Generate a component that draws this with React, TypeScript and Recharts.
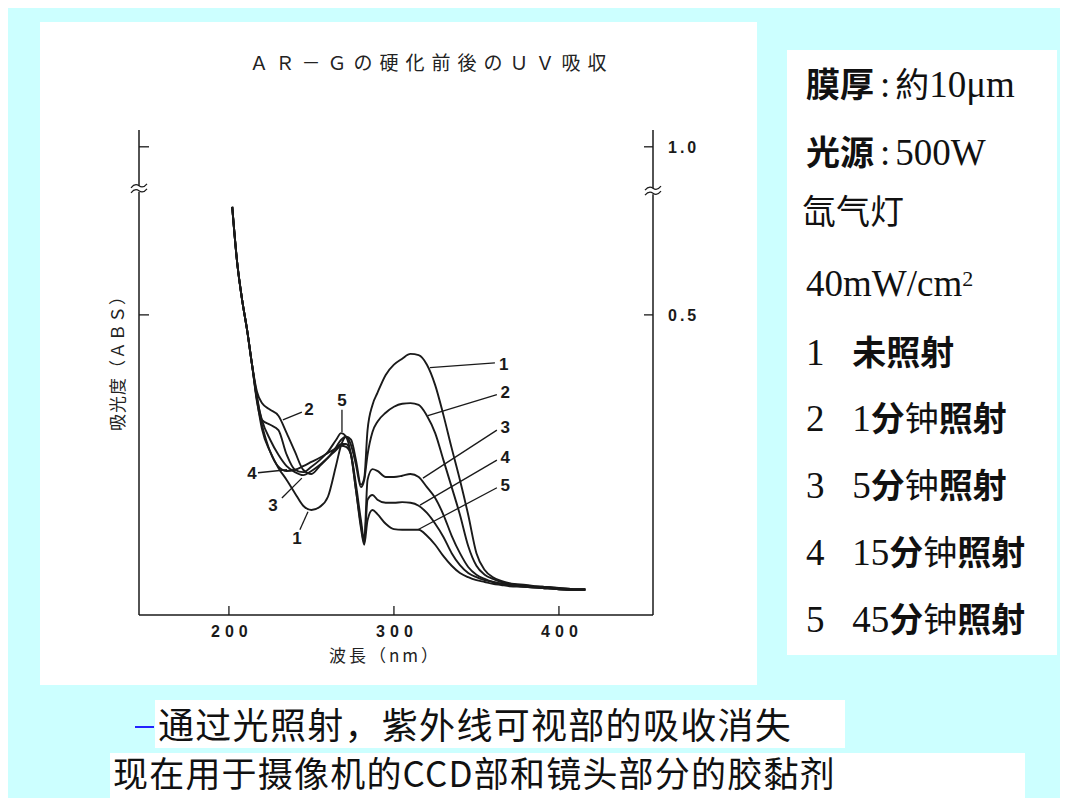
import { LineChart, Line, XAxis, YAxis, ReferenceLine, ReferenceDot } from 'recharts';

// wavelength (nm) and absorbance readings, curves 1..5
const wavelengths = [202, 205, 208, 211, 214, 217, 220, 225, 230, 235, 240, 245, 250, 255, 260, 265, 268, 271, 274, 277, 280, 282, 284, 287, 290, 295, 300, 305, 310, 315, 320, 325, 330, 335, 340, 345, 350, 355, 360, 365, 370, 380, 390, 400, 410, 416];
const abs1 = [0.68, 0.587, 0.525, 0.475, 0.417, 0.358, 0.31, 0.272, 0.245, 0.225, 0.203, 0.182, 0.175, 0.18, 0.197, 0.25, 0.283, 0.297, 0.292, 0.258, 0.217, 0.228, 0.308, 0.35, 0.37, 0.4, 0.417, 0.427, 0.435, 0.433, 0.417, 0.383, 0.333, 0.278, 0.225, 0.167, 0.103, 0.075, 0.063, 0.057, 0.053, 0.05, 0.047, 0.045, 0.043, 0.043];
const abs2 = [0.68, 0.587, 0.525, 0.475, 0.417, 0.372, 0.353, 0.342, 0.332, 0.303, 0.272, 0.242, 0.235, 0.248, 0.262, 0.28, 0.292, 0.297, 0.283, 0.25, 0.213, 0.225, 0.267, 0.305, 0.322, 0.337, 0.347, 0.352, 0.353, 0.35, 0.332, 0.303, 0.258, 0.213, 0.167, 0.115, 0.082, 0.067, 0.06, 0.055, 0.052, 0.048, 0.047, 0.045, 0.043, 0.043];
const abs3 = [0.68, 0.587, 0.525, 0.475, 0.417, 0.36, 0.325, 0.292, 0.267, 0.248, 0.238, 0.233, 0.24, 0.25, 0.262, 0.275, 0.282, 0.28, 0.267, 0.217, 0.158, 0.125, 0.225, 0.243, 0.24, 0.23, 0.23, 0.232, 0.235, 0.23, 0.213, 0.195, 0.167, 0.132, 0.103, 0.08, 0.067, 0.06, 0.055, 0.052, 0.05, 0.047, 0.045, 0.043, 0.042, 0.042];
const abs4 = [0.68, 0.587, 0.525, 0.475, 0.417, 0.355, 0.317, 0.272, 0.247, 0.24, 0.242, 0.248, 0.255, 0.262, 0.27, 0.278, 0.285, 0.285, 0.267, 0.208, 0.15, 0.12, 0.192, 0.2, 0.192, 0.187, 0.187, 0.188, 0.187, 0.182, 0.17, 0.152, 0.13, 0.103, 0.083, 0.07, 0.063, 0.058, 0.055, 0.052, 0.05, 0.047, 0.045, 0.043, 0.042, 0.042];
const abs5 = [0.68, 0.587, 0.525, 0.475, 0.417, 0.365, 0.325, 0.317, 0.308, 0.267, 0.242, 0.238, 0.247, 0.258, 0.272, 0.292, 0.303, 0.297, 0.267, 0.208, 0.145, 0.117, 0.158, 0.175, 0.168, 0.152, 0.143, 0.142, 0.142, 0.142, 0.132, 0.117, 0.098, 0.082, 0.07, 0.063, 0.058, 0.055, 0.052, 0.05, 0.048, 0.047, 0.045, 0.043, 0.042, 0.042];

const seriesKeys = ['s1', 's2', 's3', 's4', 's5'];
const xTicks = [200, 300, 400];
const yTicks = [0.5, 0.78];
const yTickLabels = ['0.5', '1.0'];
const xDomain = [145.5, 457];
const yDomain = [0, 0.808];
const breakValue = 0.71;

// leader lines for the curve numbers: line from (x1,y1) to (x2,y2), number at (tx,ty)
const curveLabels = [
  { text: '1', x1: 321.8, y1: 0.412, x2: 361.2, y2: 0.42, tx: 366.5, ty: 0.418 },
  { text: '2', x1: 320.6, y1: 0.332, x2: 362.4, y2: 0.367, tx: 367.5, ty: 0.37 },
  { text: '3', x1: 317.6, y1: 0.228, x2: 362.4, y2: 0.308, tx: 367.5, ty: 0.312 },
  { text: '4', x1: 315.8, y1: 0.183, x2: 362.4, y2: 0.258, tx: 367.5, ty: 0.262 },
  { text: '5', x1: 314.5, y1: 0.142, x2: 362.4, y2: 0.212, tx: 367.5, ty: 0.215 },
  { text: '2', x1: 232.7, y1: 0.325, x2: 244.2, y2: 0.338, tx: 248.5, ty: 0.342 },
  { text: '5', x1: 268.5, y1: 0.305, x2: 268.5, y2: 0.342, tx: 268.5, ty: 0.357 },
  { text: '4', x1: 217.6, y1: 0.237, x2: 235.2, y2: 0.242, tx: 213.9, ty: 0.235 },
  { text: '3', x1: 232.1, y1: 0.195, x2: 244.2, y2: 0.228, tx: 226.7, ty: 0.183 },
  { text: '1', x1: 243, y1: 0.142, x2: 247.9, y2: 0.172, tx: 241.2, ty: 0.128 },
];

const data = wavelengths.map((nm, i) => ({
  nm,
  s1: abs1[i],
  s2: abs2[i],
  s3: abs3[i],
  s4: abs4[i],
  s5: abs5[i],
}));

const INK = '#1a1a1a';
const tickFont = { fontFamily: '"Liberation Sans", Arial, sans-serif', fontSize: 16, fontWeight: 700, fill: INK, letterSpacing: 5 };

const LeftTick = ({ x, y }: any) => <line x1={x} x2={x + 10} y1={y} y2={y} stroke={INK} strokeWidth={1.3} />;

const RightTick = ({ x, y, payload }: any) => {
  const idx = yTicks.indexOf(payload.value);
  return (
    <g>
      <line x1={x - 9} x2={x} y1={y} y2={y} stroke={INK} strokeWidth={1.3} />
      <text x={x + 15} y={y + 6} {...tickFont} letterSpacing={3}>{yTickLabels[idx]}</text>
    </g>
  );
};

const BottomTick = ({ x, y, payload }: any) => (
  <g>
    <line x1={x} x2={x} y1={y} y2={y - 9} stroke={INK} strokeWidth={1.3} />
    <text x={x + 3} y={y + 22} textAnchor="middle" {...tickFont}>{payload.value}</text>
  </g>
);

const BreakMark = ({ cx, cy }: any) => (
  <g>
    <rect x={cx - 4} y={cy - 3} width={8} height={6} fill="#fff" />
    <path d={`M${cx - 8} ${cy - 1} q4 -5 8 -2 t8 -2`} fill="none" stroke={INK} strokeWidth={1.2} />
    <path d={`M${cx - 8} ${cy + 4} q4 -5 8 -2 t8 -2`} fill="none" stroke={INK} strokeWidth={1.2} />
  </g>
);

const NumberText = (text: string) => ({ cx, cy }: any) => (
  <text x={cx} y={cy} textAnchor="middle" dominantBaseline="central"
    fontFamily='"Liberation Sans", Arial, sans-serif' fontSize={17} fontWeight={700} fill={INK}>{text}</text>
);

function Spectrum() {
  return (
    <LineChart width={717} height={663} data={data} margin={{ top: 108, right: 103, bottom: 40, left: 98 }}>
      <XAxis dataKey="nm" type="number" domain={xDomain} ticks={xTicks} interval={0} allowDataOverflow
        height={30} tickSize={0} tickMargin={0} tick={BottomTick}
        axisLine={{ stroke: INK, strokeWidth: 1.5 }} tickLine={false} />
      <YAxis yAxisId="left" orientation="left" width={1} type="number" domain={yDomain} ticks={yTicks}
        interval={0} allowDataOverflow tickSize={0} tickMargin={0} tick={LeftTick}
        axisLine={{ stroke: INK, strokeWidth: 1.5 }} tickLine={false} />
      <YAxis yAxisId="right" orientation="right" width={1} type="number" domain={yDomain} ticks={yTicks}
        interval={0} allowDataOverflow tickSize={0} tickMargin={0} tick={RightTick}
        axisLine={{ stroke: INK, strokeWidth: 1.5 }} tickLine={false} />
      {seriesKeys.map((k) => (
        <Line key={k} yAxisId="left" dataKey={k} type="monotone" stroke={INK} strokeWidth={1.9}
          dot={false} activeDot={false} isAnimationActive={false} />
      ))}
      {curveLabels.map((c, i) => (
        <ReferenceLine key={`l${i}`} yAxisId="left" segment={[{ x: c.x1, y: c.y1 }, { x: c.x2, y: c.y2 }]}
          stroke={INK} strokeWidth={1.3} ifOverflow="visible" />
      ))}
      {curveLabels.map((c, i) => (
        <ReferenceDot key={`t${i}`} yAxisId="left" x={c.tx} y={c.ty} r={0} ifOverflow="visible"
          shape={NumberText(c.text)} />
      ))}
      <ReferenceDot yAxisId="left" x={xDomain[0]} y={breakValue} ifOverflow="visible" shape={BreakMark} />
      <ReferenceDot yAxisId="left" x={xDomain[1]} y={breakValue - 0.004} ifOverflow="visible" shape={BreakMark} />
    </LineChart>
  );
}

const latin = '"Liberation Serif", "Noto Sans CJK SC", serif';

function InfoLine({ top, children }: { top: number; children: any }) {
  return (
    <div style={{ position: 'absolute', left: 19, top, height: 46, lineHeight: '46px', fontSize: 37, whiteSpace: 'nowrap', fontFamily: latin, color: '#111' }}>
      {children}
    </div>
  );
}

const B = ({ children }: any) => <span style={{ fontFamily: '"Noto Sans CJK SC", sans-serif', fontWeight: 700, fontSize: 34 }}>{children}</span>;
const L = ({ children }: any) => <span style={{ fontFamily: '"Noto Sans CJK SC", sans-serif', fontWeight: 400, fontSize: 34 }}>{children}</span>;
const Colon = () => <span style={{ margin: '0 5px 0 6px' }}>:</span>;

export default function App() {
  return (
    <div style={{ position: 'relative', width: 1060, height: 790, background: '#ccffff', overflow: 'hidden' }}>
      <div style={{ position: 'absolute', left: 32, top: 14, width: 717, height: 663, background: '#fff' }}>
        <div style={{ position: 'absolute', left: 0, width: 717, top: 26, textAlign: 'center', paddingLeft: 66, boxSizing: 'border-box',
          fontFamily: '"Noto Sans CJK JP", sans-serif', fontSize: 19, letterSpacing: 7, color: '#222', whiteSpace: 'nowrap' }}>
          ＡＲ－Ｇの硬化前後のＵＶ吸収
        </div>
        <Spectrum />
        <div style={{ position: 'absolute', left: 77 - 80, top: 337 - 12, width: 160, height: 24, lineHeight: '24px', textAlign: 'center',
          transform: 'rotate(-90deg)', fontFamily: '"Noto Sans CJK JP", sans-serif', fontSize: 17, letterSpacing: 1, color: '#222', whiteSpace: 'nowrap' }}>
          吸光度（ＡＢＳ）
        </div>
        <div style={{ position: 'absolute', left: 345 - 90, top: 620, width: 180, textAlign: 'center',
          fontFamily: '"Noto Sans CJK JP", sans-serif', fontSize: 17, letterSpacing: 3, color: '#222' }}>
          波長（nm）
        </div>
      </div>

      <div style={{ position: 'absolute', left: 779, top: 42, width: 270, height: 605, background: '#fff' }}>
        <InfoLine top={10}><B>膜厚</B><Colon /><L>約</L>10μm</InfoLine>
        <InfoLine top={78}><B>光源</B><Colon />500W</InfoLine>
        <InfoLine top={137}><span style={{ marginLeft: -4 }}><L>氙气灯</L></span></InfoLine>
        <InfoLine top={211}>40mW/cm<sup style={{ fontSize: 22, verticalAlign: 'top', lineHeight: '36px' }}>2</sup></InfoLine>
        <InfoLine top={278}>1&nbsp;&nbsp;&nbsp;<B>未照射</B></InfoLine>
        <InfoLine top={344}>2&nbsp;&nbsp;&nbsp;1<B>分</B><L>钟</L><B>照射</B></InfoLine>
        <InfoLine top={411}>3&nbsp;&nbsp;&nbsp;5<B>分</B><L>钟</L><B>照射</B></InfoLine>
        <InfoLine top={478}>4&nbsp;&nbsp;&nbsp;15<B>分</B><L>钟</L><B>照射</B></InfoLine>
        <InfoLine top={545}>5&nbsp;&nbsp;&nbsp;45<B>分</B><L>钟</L><B>照射</B></InfoLine>
      </div>

      <div style={{ position: 'absolute', left: 127, top: 718, width: 19, height: 2, background: '#2222ff' }} />
      <div style={{ position: 'absolute', left: 147, top: 692, width: 690, height: 48, background: '#fff',
        fontFamily: '"Noto Sans CJK SC", sans-serif', fontSize: 36, lineHeight: '46px', paddingLeft: 3, letterSpacing: 1.3, boxSizing: 'border-box', whiteSpace: 'nowrap', color: '#111' }}>
        通过光照射，紫外线可视部的吸收消失
      </div>
      <div style={{ position: 'absolute', left: 102, top: 745, width: 915, height: 45, background: '#fff',
        fontFamily: '"Noto Sans CJK SC", sans-serif', fontSize: 35, lineHeight: '38px', paddingLeft: 3, letterSpacing: 1.2, boxSizing: 'border-box', whiteSpace: 'nowrap', color: '#111' }}>
        现在用于摄像机的CCD部和镜头部分的胶黏剂
      </div>
    </div>
  );
}
